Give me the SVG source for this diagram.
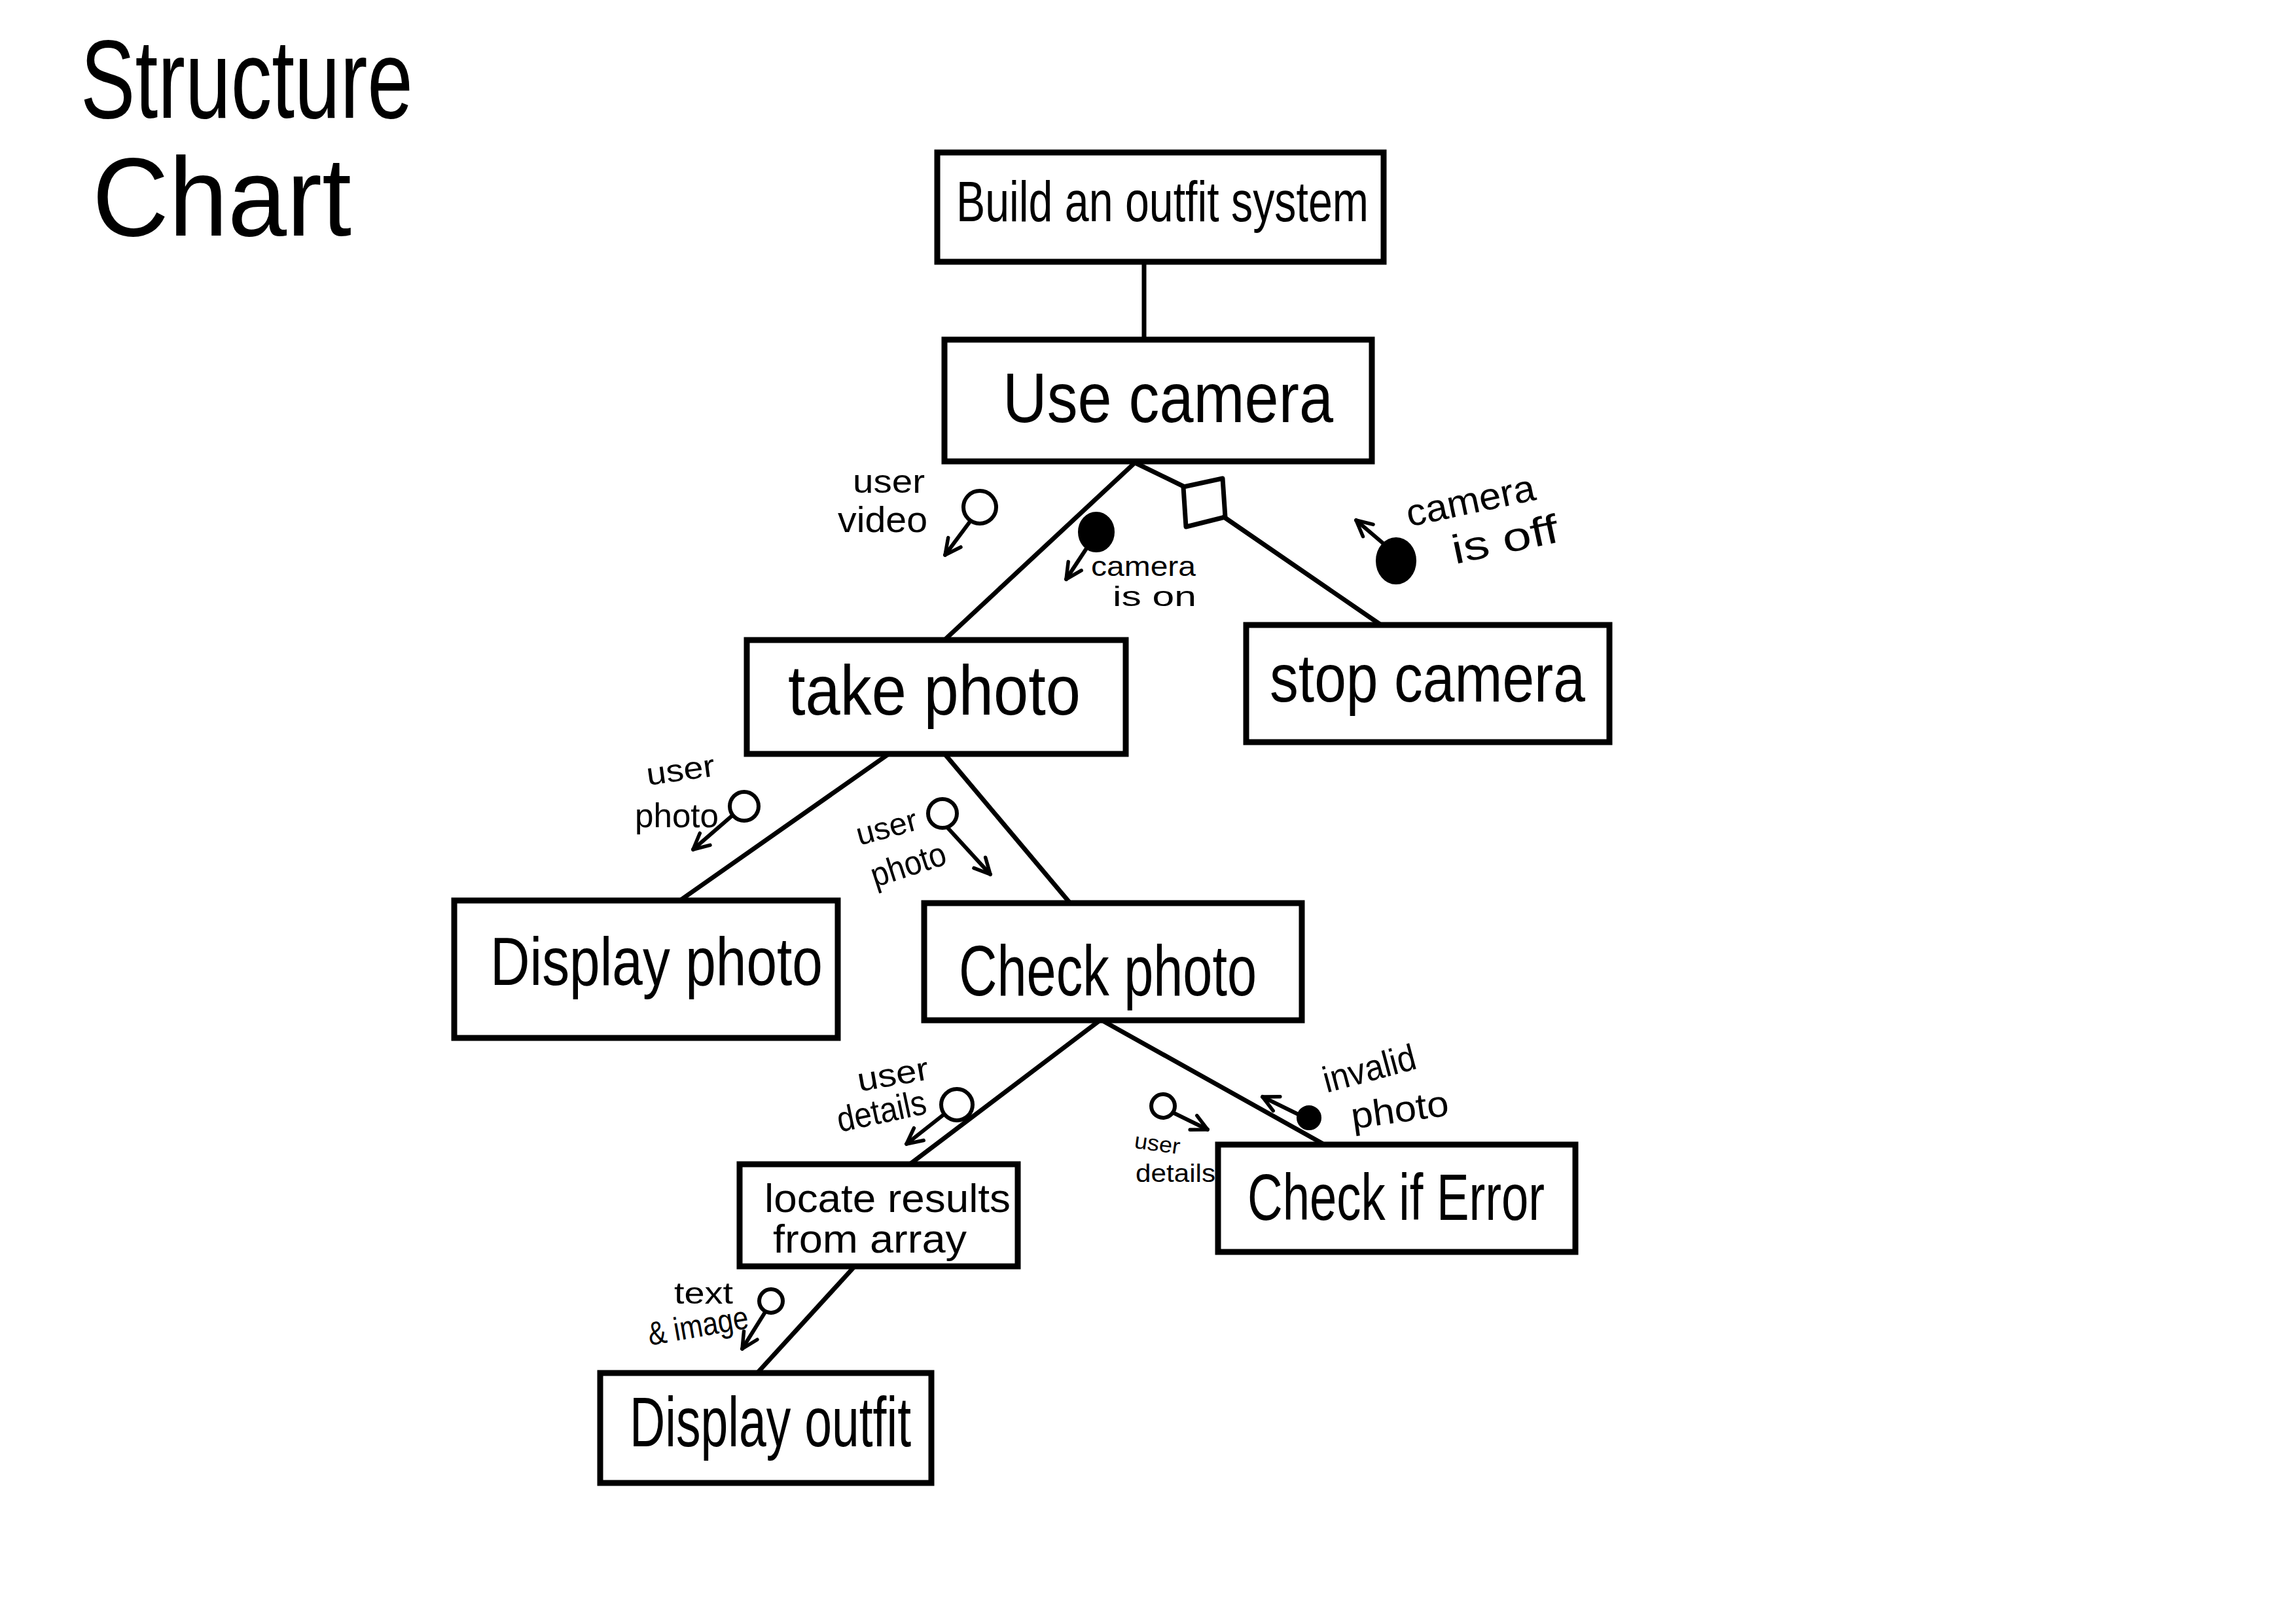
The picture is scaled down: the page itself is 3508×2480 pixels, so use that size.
<svg xmlns="http://www.w3.org/2000/svg" width="3508" height="2480" viewBox="0 0 3508 2480">
<style>
.box{fill:#fff;stroke:#000;stroke-width:9;stroke-linejoin:miter}
.link{stroke:#000;stroke-width:7;fill:none;stroke-linecap:round}
.cpl{stroke:#000;stroke-width:6;fill:none;stroke-linecap:round}
.oc{fill:#fff;stroke:#000;stroke-width:6}
.fc{fill:#000;stroke:#000;stroke-width:2}
text{font-family:"Liberation Sans Narrow","Liberation Sans",Arial,sans-serif;fill:#000}
</style>
<defs>
<marker id="ah" viewBox="0 0 30 30" refX="27" refY="15" markerWidth="30" markerHeight="30" orient="auto" markerUnits="userSpaceOnUse">
<path d="M3,3 L27,15 L3,27" fill="none" stroke="#000" stroke-width="5.5" stroke-linecap="round" stroke-linejoin="round"/>
</marker>
</defs>
<rect width="3508" height="2480" fill="#fff"/>
<g id="title">
<text x="123" y="180" font-size="170" textLength="508" lengthAdjust="spacingAndGlyphs">Structure</text>
<text x="141" y="360" font-size="170" textLength="396" lengthAdjust="spacingAndGlyphs">Chart</text>
</g>
<g id="connectors">
<line class="link" x1="1748" y1="400" x2="1748" y2="519"/>
<line class="link" x1="1734" y1="707" x2="1443" y2="978"/>
<line class="link" x1="1734" y1="707" x2="1810" y2="744"/>
<polygon points="1808,744 1868,731 1872,790 1812,805" fill="#fff" stroke="#000" stroke-width="7" stroke-linejoin="round"/>
<line class="link" x1="1870" y1="790" x2="2110" y2="955"/>
<line class="link" x1="1358" y1="1152" x2="1036" y2="1378"/>
<line class="link" x1="1445" y1="1154" x2="1635" y2="1380"/>
<line class="link" x1="1678" y1="1561" x2="1390" y2="1779"/>
<line class="link" x1="1687" y1="1561" x2="2020" y2="1747"/>
<line class="link" x1="1304" y1="1937" x2="1157" y2="2098"/>
</g>
<g id="couples">
<circle class="oc" cx="1497" cy="775" r="25"/>
<line class="cpl" x1="1482" y1="797" x2="1444" y2="848" marker-end="url(#ah)"/>
<ellipse class="fc" cx="1675" cy="813" rx="27" ry="30"/>
<line class="cpl" x1="1660" y1="838" x2="1629" y2="885" marker-end="url(#ah)"/>
<ellipse class="fc" cx="2133" cy="857" rx="30" ry="35"/>
<line class="cpl" x1="2113" y1="830" x2="2072" y2="795" marker-end="url(#ah)"/>
<circle class="oc" cx="1137" cy="1232" r="22"/>
<line class="cpl" x1="1119" y1="1246" x2="1059" y2="1298" marker-end="url(#ah)"/>
<circle class="oc" cx="1440" cy="1243" r="22"/>
<line class="cpl" x1="1448" y1="1265" x2="1513" y2="1336" marker-end="url(#ah)"/>
<circle class="oc" cx="1462" cy="1688" r="24"/>
<line class="cpl" x1="1442" y1="1703" x2="1385" y2="1748" marker-end="url(#ah)"/>
<circle class="oc" cx="1777" cy="1690" r="18"/>
<line class="cpl" x1="1792" y1="1700" x2="1845" y2="1726" marker-end="url(#ah)"/>
<circle class="fc" cx="2000" cy="1708" r="18"/>
<line class="cpl" x1="1984" y1="1703" x2="1929" y2="1676" marker-end="url(#ah)"/>
<circle class="oc" cx="1178" cy="1988" r="18"/>
<line class="cpl" x1="1169" y1="2005" x2="1134" y2="2061" marker-end="url(#ah)"/>
</g>
<g id="labels">
<text x="1303" y="753" font-size="50" textLength="110" lengthAdjust="spacingAndGlyphs">user</text>
<text x="1280" y="813" font-size="56" textLength="137" lengthAdjust="spacingAndGlyphs">video</text>
<text x="1667" y="880" font-size="42" textLength="160" lengthAdjust="spacingAndGlyphs">camera</text>
<text x="1700" y="926" font-size="42" textLength="128" lengthAdjust="spacingAndGlyphs">is on</text>
<text x="2153" y="805" font-size="58" textLength="200" lengthAdjust="spacingAndGlyphs" transform="rotate(-12 2153 805)">camera</text>
<text x="2223" y="862" font-size="62" textLength="165" lengthAdjust="spacingAndGlyphs" transform="rotate(-12 2223 862)">is off</text>
<text x="990" y="1200" font-size="48" textLength="105" lengthAdjust="spacingAndGlyphs" transform="rotate(-8 990 1200)">user</text>
<text x="970" y="1264" font-size="52" textLength="128" lengthAdjust="spacingAndGlyphs">photo</text>
<text x="1313" y="1292" font-size="48" textLength="95" lengthAdjust="spacingAndGlyphs" transform="rotate(-15 1313 1292)">user</text>
<text x="1337" y="1356" font-size="52" textLength="118" lengthAdjust="spacingAndGlyphs" transform="rotate(-18 1337 1356)">photo</text>
<text x="1313" y="1668" font-size="50" textLength="110" lengthAdjust="spacingAndGlyphs" transform="rotate(-10 1313 1668)">user</text>
<text x="1283" y="1730" font-size="54" textLength="138" lengthAdjust="spacingAndGlyphs" transform="rotate(-12 1283 1730)">details</text>
<text x="1732" y="1754" font-size="34" textLength="70" lengthAdjust="spacingAndGlyphs" transform="rotate(8 1732 1754)">user</text>
<text x="1735" y="1806" font-size="38" textLength="122" lengthAdjust="spacingAndGlyphs">details</text>
<text x="2027" y="1670" font-size="56" textLength="145" lengthAdjust="spacingAndGlyphs" transform="rotate(-15 2027 1670)">invalid</text>
<text x="2067" y="1725" font-size="56" textLength="150" lengthAdjust="spacingAndGlyphs" transform="rotate(-8 2067 1725)">photo</text>
<text x="1030" y="1992" font-size="46" textLength="90" lengthAdjust="spacingAndGlyphs">text</text>
<text x="993" y="2056" font-size="50" textLength="155" lengthAdjust="spacingAndGlyphs" transform="rotate(-10 993 2056)">&amp; image</text>
</g>
<g id="build">
<rect class="box" x="1432" y="233" width="682" height="167"/>
<text x="1461" y="338" font-size="88" textLength="630" lengthAdjust="spacingAndGlyphs">Build an outfit system</text>
</g>
<g id="usecamera">
<rect class="box" x="1443" y="519" width="653" height="186"/>
<text x="1532" y="645" font-size="108" textLength="505" lengthAdjust="spacingAndGlyphs">Use camera</text>
</g>
<g id="takephoto">
<rect class="box" x="1141" y="978" width="579" height="174"/>
<text x="1204" y="1092" font-size="108" textLength="447" lengthAdjust="spacingAndGlyphs">take photo</text>
</g>
<g id="stopcamera">
<rect class="box" x="1904" y="955" width="555" height="179"/>
<text x="1940" y="1072" font-size="104" textLength="482" lengthAdjust="spacingAndGlyphs">stop camera</text>
</g>
<g id="displayphoto">
<rect class="box" x="694" y="1376" width="586" height="210"/>
<text x="749" y="1505" font-size="104" textLength="508" lengthAdjust="spacingAndGlyphs">Display photo</text>
</g>
<g id="checkphoto">
<rect class="box" x="1412" y="1380" width="577" height="179"/>
<text x="1465" y="1521" font-size="110" textLength="455" lengthAdjust="spacingAndGlyphs">Check photo</text>
</g>
<g id="locate">
<rect class="box" x="1130" y="1779" width="425" height="156"/>
<text x="1168" y="1852" font-size="62" textLength="376" lengthAdjust="spacingAndGlyphs">locate results</text>
<text x="1181" y="1914" font-size="62" textLength="296" lengthAdjust="spacingAndGlyphs">from array</text>
</g>
<g id="checkerror">
<rect class="box" x="1861" y="1749" width="546" height="164"/>
<text x="1906" y="1864" font-size="100" textLength="454" lengthAdjust="spacingAndGlyphs">Check if Error</text>
</g>
<g id="displayoutfit">
<rect class="box" x="917" y="2098" width="506" height="168"/>
<text x="962" y="2210" font-size="108" textLength="430" lengthAdjust="spacingAndGlyphs">Display outfit</text>
</g>
</svg>
